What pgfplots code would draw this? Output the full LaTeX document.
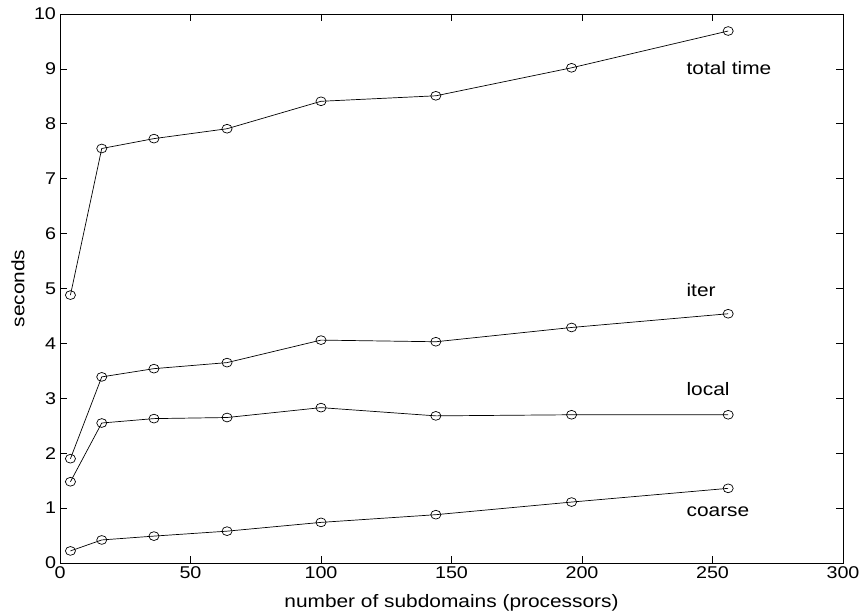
\documentclass[border=0pt]{standalone}
\usepackage{fontspec}
\setmainfont{Liberation Sans}[FakeStretch=1.16]
\usepackage{pgfplots}
\pgfplotsset{compat=1.18}
\tikzset{ser/.style={black, line width=0.7pt, mark=o, mark size=4.4pt, mark options={xscale=1.15, solid, line width=0.7pt}}}
\begin{document}
\begin{tikzpicture}
\begin{axis}[
  name=main,
  scale only axis,
  width=783pt, height=549pt,
  xmin=0, xmax=300, ymin=0, ymax=10,
  xtick={0,50,...,300}, ytick={0,1,...,10},
  tick align=inside,
  major tick length=7pt,
  axis line style={line width=0.9pt},
  tick style={black, line width=0.6pt},
  /pgf/number format/assume math mode=true,
  ticklabel style={font=\fontsize{17}{19}\selectfont},
  xticklabel style={yshift=-0.5pt},
  yticklabel style={xshift=-0.5pt},
  clip=false,
]
\addplot[ser] coordinates {(4,4.88) (16,7.55) (36,7.73) (64,7.91) (100,8.41) (144,8.51) (196,9.02) (256,9.69)};
\addplot[ser] coordinates {(4,1.90) (16,3.39) (36,3.54) (64,3.65) (100,4.06) (144,4.03) (196,4.29) (256,4.54)};
\addplot[ser] coordinates {(4,1.48) (16,2.55) (36,2.63) (64,2.65) (100,2.83) (144,2.68) (196,2.70) (256,2.70)};
\addplot[ser] coordinates {(4,0.22) (16,0.42) (36,0.49) (64,0.58) (100,0.74) (144,0.88) (196,1.11) (256,1.36)};
\node[anchor=base west, inner sep=0pt, font=\fontsize{18}{20}\selectfont] at (axis cs:240,8.89) {total time};
\node[anchor=base west, inner sep=0pt, font=\fontsize{18}{20}\selectfont] at (axis cs:240,4.86) {iter};
\node[anchor=base west, inner sep=0pt, font=\fontsize{18}{20}\selectfont] at (axis cs:240,3.06) {local};
\node[anchor=base west, inner sep=0pt, font=\fontsize{18}{20}\selectfont] at (axis cs:240,0.84) {coarse};
\end{axis}
\node[anchor=base, inner sep=0pt, font=\fontsize{18}{20}\selectfont] at ([yshift=-44pt]main.south) {number of subdomains (processors)};
\node[rotate=90, anchor=center, inner sep=0pt, font=\fontsize{18}{20}\selectfont] at ([xshift=-42pt]main.west) {seconds};
\pgfresetboundingbox
\path ([shift={(-60pt,-52pt)}]main.south west) rectangle ([shift={(22pt,14pt)}]main.north east);
\end{tikzpicture}
\end{document}
